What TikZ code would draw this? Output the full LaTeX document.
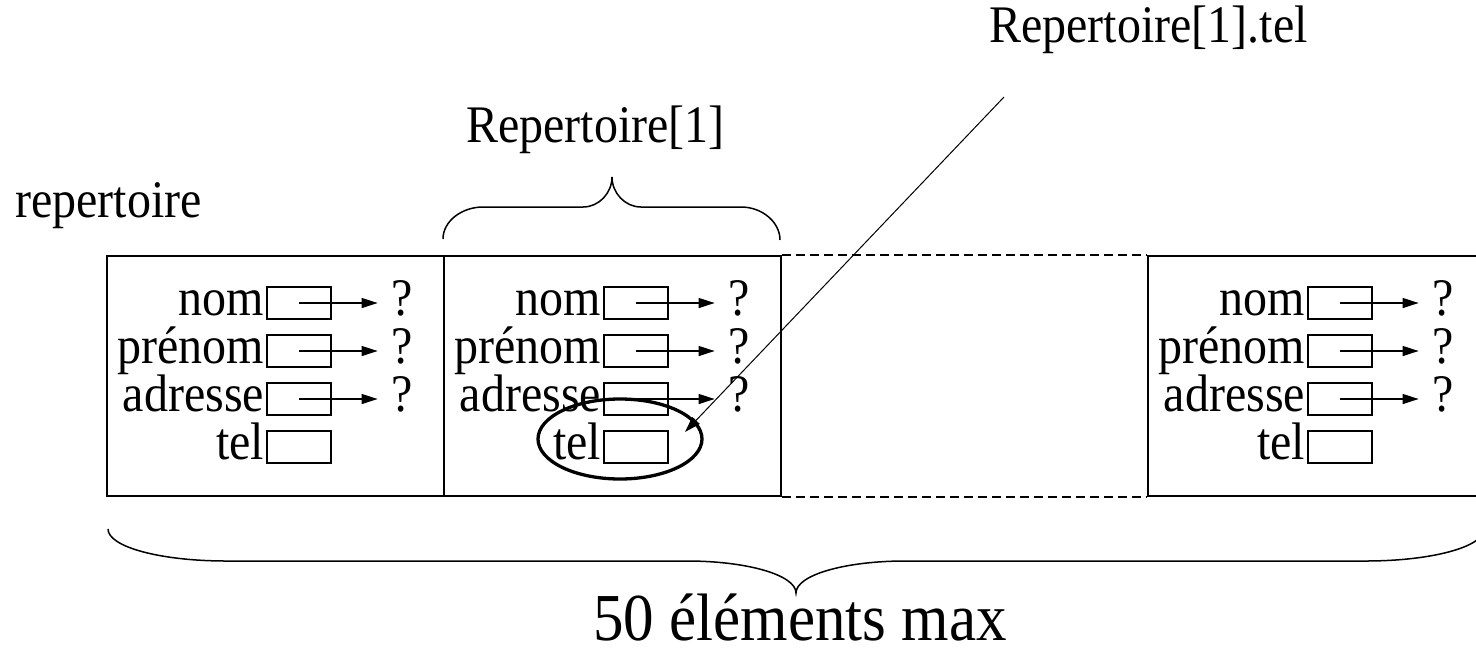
\documentclass[tikz,border=0pt]{standalone}
\usepackage{fontspec}
\setmainfont{Liberation Serif}
\usepackage{graphicx}
\usepackage{tikz}
\usetikzlibrary{arrows.meta}
\usetikzlibrary{shapes}
\usetikzlibrary{calc}
\newcommand{\tall}[1]{\scalebox{1}[1.1]{#1}}
\tikzstyle{CellNode}=[rectangle, draw=black, line width=2pt, minimum width=337pt, minimum height=240pt, inner sep=0pt]
\tikzstyle{FieldNode}=[rectangle, draw=black, line width=1.3pt, minimum width=64pt, minimum height=32pt, inner sep=0pt]
\tikzstyle{TextNode}=[inner sep=0pt, font=\fontsize{48}{56}\selectfont]
\tikzstyle{BigTextNode}=[inner sep=0pt, font=\fontsize{61}{70}\selectfont]
\tikzstyle{RingNode}=[ellipse, draw=black, line width=3.3pt, minimum width=164pt, minimum height=80pt, inner sep=0pt]
\tikzstyle{PtrEdge}=[-{Triangle[length=16pt,width=10pt]}, line width=1.3pt]
\tikzstyle{GapEdge}=[line width=2pt, dash pattern=on 9pt off 5pt]
\tikzstyle{BraceEdge}=[line width=1.5pt]

\begin{document}
\begin{tikzpicture}[x=1pt, y=-1pt]
\useasboundingbox (0,0) rectangle (1476,654);

% the cells of the array
\node[CellNode](c1) at (275.5,376) {};
\node[CellNode](c2) at (612.5,376) {};
\node[CellNode](c4) at (1316.5,376) {};
\draw[GapEdge](c2.north east) -- (c4.north west);
\draw[GapEdge](c2.south east) -- (c4.south west);

% fields of each cell
\foreach \cl/\cx in {a/107, b/444, d/1148}{
  \foreach \f/\t/\y in {nom/nom/303, pre/prénom/351, adr/adresse/399}{
    \node[FieldNode](\cl\f) at (\cx+192,\y) {};
    \node[TextNode, anchor=base east] at ([xshift=-2pt, yshift=4pt]\cl\f.south west) {\tall{\t}};
    \node[TextNode, anchor=base west](\cl\f q) at ([xshift=60pt, yshift=4pt]\cl\f.south east) {\tall{?}};
    \draw[PtrEdge, shorten >=14pt](\cl\f.center) -- (\cl\f.center -| \cl\f q.west);
  }
  \node[FieldNode](\cl tel) at (\cx+192,447) {};
  \node[TextNode, anchor=base east] at ([xshift=-2pt, yshift=4pt]\cl tel.south west) {\tall{tel}};
}

% labels
\node[TextNode, anchor=base west](rep) at (15,217) {\tall{repertoire}};
\node[TextNode, anchor=base west](rep1) at (466,142) {\tall{Repertoire[1]}};
\node[TextNode, anchor=base west](rep1tel) at (989,42) {\tall{Repertoire[1].tel}};
\node[BigTextNode, anchor=base west](max) at (593,640) {\tall{50 éléments max}};

% ring round the tel field of Repertoire[1]
\node[RingNode](telring) at (620,439) {};
\coordinate (telfrom) at (1004,97);
\coordinate (telto) at (685,432);
\draw[PtrEdge, line width=1pt](telfrom) -- (telto);

% braces
\draw[BraceEdge](c2.north west) ++(0,-16) .. controls ++(0,-18) and (462,207) .. (483,207) -- (583,207)
  .. controls (599,207) and (612,193) .. (612,177) .. controls (612,193) and (625,207) .. (641,207)
  -- (741,207) .. controls (762,207) and (780,222) .. (780,240);
\draw[BraceEdge](108,529) .. controls (108,547) and (161,561) .. (226,561) -- (687,561)
  .. controls (747,561) and (796,575) .. (796,593) .. controls (796,575) and (845,561) .. (905,561)
  -- (1366,561) .. controls (1431,561) and (1484,547) .. (1484,529);
\end{tikzpicture}
\end{document}
